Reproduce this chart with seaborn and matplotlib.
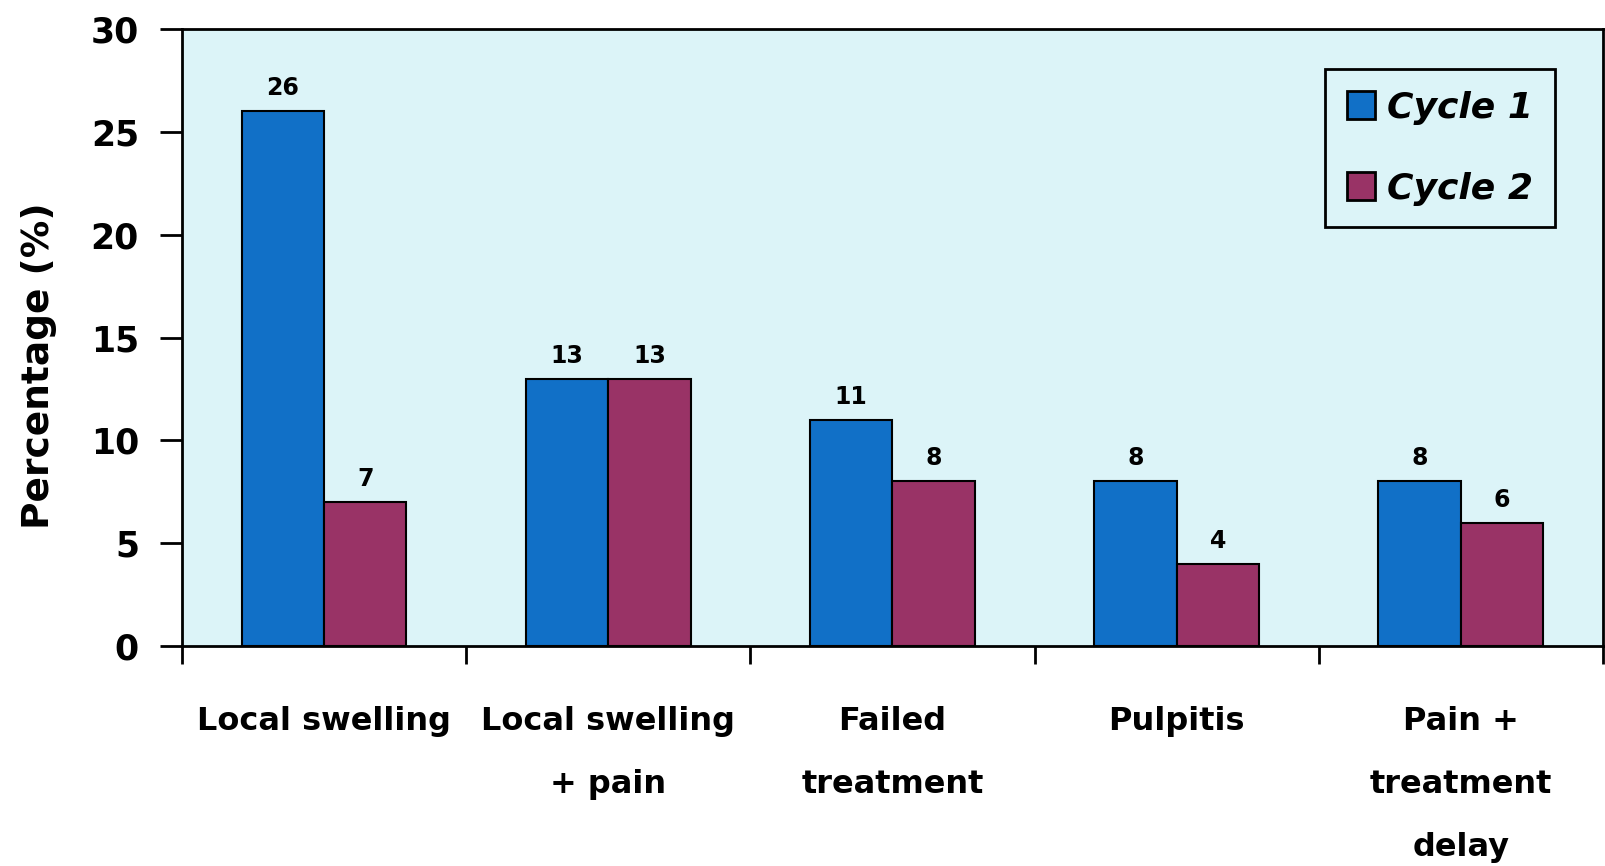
import matplotlib
matplotlib.use("Agg")
import matplotlib.pyplot as plt
import seaborn as sns
import numpy as np
import pandas as pd

categories = ["Local swelling", "Local swelling\n+ pain", "Failed\ntreatment",
              "Pulpitis", "Pain +\ntreatment\ndelay"]
cycle1 = [26, 13, 11, 8, 8]
cycle2 = [7, 13, 8, 4, 6]
series = ["Cycle 1", "Cycle 2"]
colours = ["#1170C7", "#993366"]

df = pd.DataFrame({
    "cat": categories * 2,
    "val": cycle1 + cycle2,
    "cycle": [series[0]] * len(cycle1) + [series[1]] * len(cycle2),
})

sns.set_theme(style="white")
plt.rcParams["font.family"] = ["DejaVu Sans"]
plt.rcParams["font.weight"] = "bold"
for k in ["text.color", "axes.labelcolor", "xtick.color", "ytick.color"]:
    plt.rcParams[k] = "black"

fig = plt.figure(figsize=(16.06, 8.66), dpi=100)
ax = fig.add_axes([0.1133, 0.254, 0.8848, 0.7125])
ax.set_facecolor("#DCF4F8")

sns.barplot(data=df, x="cat", y="val", hue="cycle", palette=colours,
            width=0.58, gap=0, edgecolor="black", linewidth=1.5,
            saturation=1, ax=ax, legend=True)

for cont in ax.containers:
    ax.bar_label(cont, fontsize=17, fontweight="bold", padding=8)

ax.set_xlim(-0.5, len(categories) - 0.5)
ax.set_ylim(0, 30)
ax.set_yticks(np.arange(0, 31, 5))
ax.tick_params(axis="y", which="major", direction="out", length=16, width=2,
               labelsize=25, pad=15, left=True)
# linespacing is relative to the glyph ascent, so a large value is needed
ax.set_xticks(range(len(categories)), categories, linespacing=2.33,
              fontweight="bold", fontsize=23)
ax.tick_params(axis="x", which="major", length=0, pad=43)
ax.set_xticks(np.arange(-0.5, len(categories)), minor=True)
ax.tick_params(axis="x", which="minor", direction="out", length=13, width=2,
               bottom=True)
for lab in ax.get_yticklabels():
    lab.set_fontweight("bold")

ax.set_xlabel("")
ax.set_ylabel("Percentage (%)", fontsize=27, fontweight="bold")
ax.yaxis.set_label_coords(-0.088, 0.455)

for sp in ax.spines.values():
    sp.set_color("black")
    sp.set_linewidth(2)

leg = ax.legend(loc="upper right", bbox_to_anchor=(0.966, 0.935),
                borderaxespad=0, frameon=True, fancybox=False,
                prop={"size": 26, "weight": "bold", "style": "italic"},
                handlelength=0.8, handleheight=0.8, labelspacing=1.3,
                handletextpad=0.32, borderpad=0.6)
leg.get_frame().set_edgecolor("black")
leg.get_frame().set_linewidth(2)
leg.get_frame().set_facecolor("#DCF4F8")
leg.get_frame().set_alpha(1)
for h in leg.legend_handles:
    h.set_edgecolor("black")
    h.set_linewidth(2)

fig.savefig("out.png", dpi=100)
